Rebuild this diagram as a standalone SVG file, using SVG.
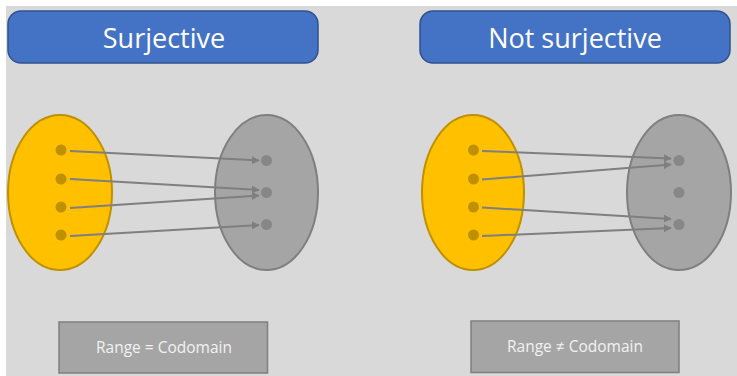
<svg xmlns="http://www.w3.org/2000/svg" width="737" height="376" viewBox="0 0 737 376">
<style>
.title{fill:#4472c4;stroke:#2f528f;stroke-width:1.5}
.ttext{font-family:"Open Sans","Noto Sans",sans-serif;font-size:27px;fill:#ffffff;text-anchor:middle}
.dom{fill:#ffc000;stroke:#bf9000;stroke-width:2}
.cod{fill:#a5a5a5;stroke:#7f7f7f;stroke-width:2}
.dd{fill:#bf9000}
.cd{fill:#878787}
.box{fill:#a5a5a5;stroke:#7f7f7f;stroke-width:1.5}
.btext{font-family:"Open Sans","Noto Sans",sans-serif;font-size:15.5px;fill:#f2f2f2;text-anchor:middle}
.arr{stroke:#7f7f7f;stroke-width:2;fill:none;marker-end:url(#ah)}
</style>
<defs>
<marker id="ah" viewBox="0 0 10 10" refX="9" refY="5" markerWidth="4" markerHeight="4" orient="auto" markerUnits="strokeWidth">
<path d="M0,0 L10,5 L0,10 z" fill="#7f7f7f"/>
</marker>
</defs>
<rect x="0" y="0" width="737" height="376" fill="#ffffff"/>
<rect x="6" y="6" width="731" height="370" fill="#d9d9d9"/>
<g id="title-left"><rect class="title" x="8" y="11" width="310" height="52" rx="13"/><text class="ttext" x="164" y="48">Surjective</text></g>
<g id="title-right"><rect class="title" x="420" y="11" width="310" height="52" rx="13"/><text class="ttext" x="575" y="48">Not surjective</text></g>
<g id="domain-left"><ellipse class="dom" cx="60" cy="192.5" rx="52" ry="77.5"/>
<circle class="dd" cx="61" cy="150" r="5.5"/><circle class="dd" cx="61" cy="179" r="5.5"/><circle class="dd" cx="61" cy="207" r="5.5"/><circle class="dd" cx="61" cy="235" r="5.5"/></g>
<g id="codomain-left"><ellipse class="cod" cx="266.5" cy="192.5" rx="51.5" ry="77.5"/>
<circle class="cd" cx="266.5" cy="160.5" r="5.5"/><circle class="cd" cx="266.5" cy="192.5" r="5.5"/><circle class="cd" cx="266.5" cy="224.5" r="5.5"/></g>
<g id="domain-right"><ellipse class="dom" cx="473" cy="192.5" rx="51" ry="77.5"/>
<circle class="dd" cx="473.5" cy="150" r="5.5"/><circle class="dd" cx="473.5" cy="179" r="5.5"/><circle class="dd" cx="473.5" cy="207" r="5.5"/><circle class="dd" cx="473.5" cy="235" r="5.5"/></g>
<g id="codomain-right"><ellipse class="cod" cx="679" cy="192.5" rx="52" ry="77.5"/>
<circle class="cd" cx="679" cy="160.5" r="5.5"/><circle class="cd" cx="679" cy="192.5" r="5.5"/><circle class="cd" cx="679" cy="224.5" r="5.5"/></g>
<g id="connectors">
<line class="arr" x1="70" y1="151" x2="259" y2="160.5"/>
<line class="arr" x1="70" y1="179" x2="259" y2="190"/>
<line class="arr" x1="70" y1="208" x2="259" y2="195.5"/>
<line class="arr" x1="70" y1="236" x2="259" y2="225"/>
<line class="arr" x1="482" y1="151" x2="671" y2="158.5"/>
<line class="arr" x1="482" y1="179.5" x2="671" y2="164.5"/>
<line class="arr" x1="482" y1="207.5" x2="671" y2="219"/>
<line class="arr" x1="482" y1="236" x2="671" y2="228"/>
</g>
<g id="label-left"><rect class="box" x="59" y="322" width="208.5" height="51"/><text class="btext" x="164" y="352.5">Range = Codomain</text></g>
<g id="label-right"><rect class="box" x="471" y="321" width="208" height="51.5"/><text class="btext" x="575" y="352">Range ≠ Codomain</text></g>
</svg>
